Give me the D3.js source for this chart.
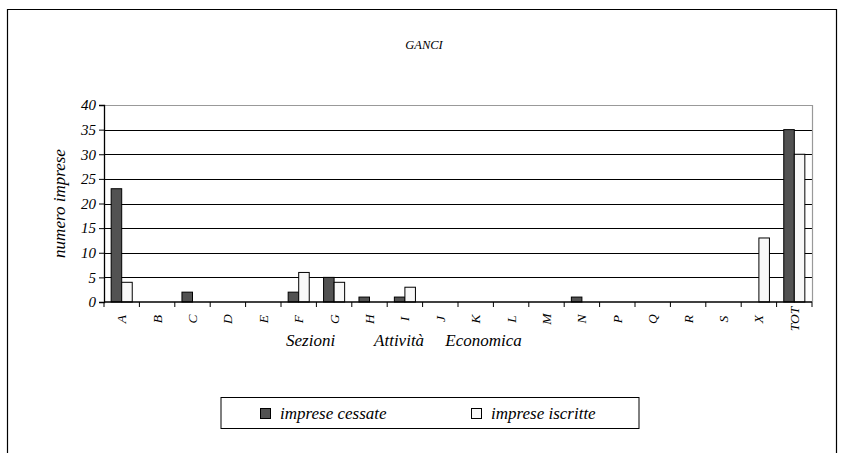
<!DOCTYPE html>
<html><head><meta charset="utf-8">
<script src="https://cdn.jsdelivr.net/npm/d3@7"></script>
</head>
<body style="margin:0;background:#fff"><svg id="c" width="841" height="453"></svg>
<script>
const categories = ["A","B","C","D","E","F","G","H","I","J","K","L","M","N","P","Q","R","S","X","TOT"];
const cessate   = [23,0,2,0,0,2,5,1,1,0,0,0,0,1,0,0,0,0,0,35];
const iscritte  = [4,0,0,0,0,6,4,0,3,0,0,0,0,0,0,0,0,0,13,30];
const seriesNames = ["imprese cessate","imprese iscritte"];
const seriesColors = ["#525252","#f8f8f8"];
const yTicks = [0,5,10,15,20,25,30,35,40];
const title = "GANCI";
const yTitle = "numero imprese";
const xTitleWords = ["Sezioni","Attività","Economica"];

const FONT = "'Liberation Serif', Tinos, 'Times New Roman', serif";
const svg = d3.select("#c");
svg.append("path").attr("d","M7.5,460 V9.5 H836.5 V460").attr("fill","none").attr("stroke","#000").attr("stroke-width",1.2);

const L=104, R=812, T=105, B=302;
const x = d3.scaleBand().domain(categories).range([L,R]);
const y = d3.scaleLinear().domain([0,40]).range([B,T]);
const inner = d3.scaleBand().domain([0,1]).range([0,x.bandwidth()]).paddingInner(0).paddingOuter(0.68);

svg.append("g").selectAll("line").data(yTicks.filter(d=>d>0 && d<40)).join("line")
  .attr("x1",L).attr("x2",R).attr("y1",d=>Math.round(y(d))+0.5).attr("y2",d=>Math.round(y(d))+0.5)
  .attr("stroke","#000").attr("stroke-width",1);
svg.append("path").attr("d",`M${L},${Math.round(T)+0.5} H${R+0.5} V${B}`).attr("fill","none").attr("stroke","#999").attr("stroke-width",1.2);

const data = categories.map((c,i)=>({c,v:[cessate[i],iscritte[i]]}));
const g = svg.append("g");
data.forEach(d=>{
  d.v.forEach((v,k)=>{
    if(v<=0) return;
    g.append("rect").attr("x",x(d.c)+inner(k)).attr("width",inner.bandwidth())
      .attr("y",y(v)).attr("height",y(0)-y(v))
      .attr("fill",seriesColors[k]).attr("stroke","#000").attr("stroke-width",1);
  });
});

const ya = svg.append("g").attr("transform",`translate(${L},0)`)
  .call(d3.axisLeft(y).tickValues(yTicks).tickSize(5).tickPadding(3));
ya.attr("font-family",null).attr("font-size",null);
ya.select(".domain").attr("stroke","#000").attr("stroke-width",1.3);
ya.selectAll("text").attr("font-size",15);

const xa = svg.append("g").attr("transform",`translate(0,${B})`);
xa.append("line").attr("x1",L).attr("x2",R).attr("stroke","#000").attr("stroke-width",1.3);
const tickPos = categories.map(c=>x(c)).concat([R]);
xa.selectAll("line.t").data(tickPos).join("line").attr("class","t")
  .attr("x1",d=>d).attr("x2",d=>d).attr("y1",0).attr("y2",5).attr("stroke","#000");
xa.selectAll("text").data(categories).join("text")
  .attr("transform",d=>`translate(${x(d)+x.bandwidth()/2+4.5},17) rotate(-90)`)
  .attr("text-anchor","middle").attr("font-size",13.5).text(d=>d);

svg.append("text").attr("x",424).attr("y",49).attr("text-anchor","middle").attr("font-size",12.5).text(title);
svg.append("text").attr("transform",`translate(65,${(T+B)/2}) rotate(-90)`).attr("text-anchor","middle").attr("font-size",17).text(yTitle);
const xt = svg.append("text").attr("x",286).attr("y",346).attr("font-size",17);
const gaps=[0,35,17];
xTitleWords.forEach((w,i)=>xt.append("tspan").attr("dx",gaps[i]).text(w+(i<2?" ":"")));

const lg = svg.append("g");
lg.append("rect").attr("x",221).attr("y",397.5).attr("width",418).attr("height",31).attr("fill","#fff").attr("stroke","#000").attr("stroke-width",1);
const lx=[260,471];
seriesNames.forEach((n,k)=>{
  lg.append("rect").attr("x",lx[k]+0.5).attr("y",408.5).attr("width",10).attr("height",10).attr("fill",seriesColors[k]).attr("stroke","#000");
  lg.append("text").attr("x",lx[k]+20).attr("y",419).attr("font-size",17).text(n);
});

svg.selectAll("text, tspan")
  .style("font-family",FONT,"important")
  .style("font-style","italic","important")
  .attr("fill","#000");
</script></body></html>
